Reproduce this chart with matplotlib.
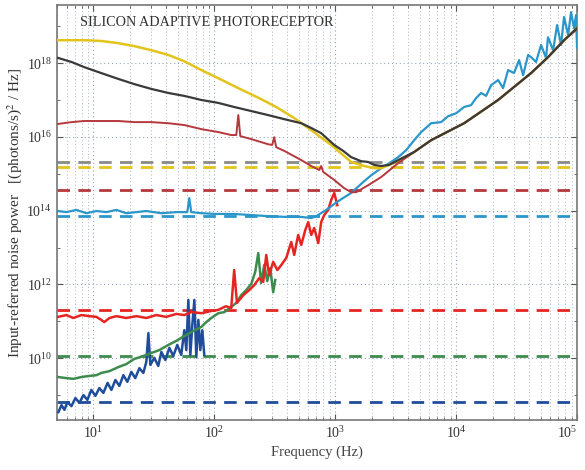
import numpy as np
import matplotlib
matplotlib.use("Agg")
import matplotlib.pyplot as plt
from matplotlib.ticker import FixedLocator, LogLocator, NullFormatter, LogFormatterSciNotation

# ---------------- data (frequency in Hz, PSD as log10 value) ----------------
title_text = "SILICON ADAPTIVE PHOTORECEPTOR"
x_label = "Frequency (Hz)"
y_label = "Input-referred noise power   [(photons/s)$^2$ / Hz]"
x_ticks = [1e1, 1e2, 1e3, 1e4, 1e5]
y_ticks = [1e10, 1e12, 1e14, 1e16, 1e18]

yellow_f = [5.1, 8.4, 11.6, 16.1, 21.8, 30.1, 41.7, 56.5, 78.2, 108, 158, 235, 325, 458,
            634, 927, 1355, 1738, 2100, 2400, 3013, 3508, 4500, 6210, 11640, 22230, 41690,
            57540, 78160, 100000]
yellow_log = [18.62, 18.62, 18.60, 18.54, 18.46, 18.35, 18.22, 18.05, 17.81, 17.59, 17.32,
              17.05, 16.81, 16.51, 16.18, 15.78, 15.32, 15.21, 15.15, 15.15, 15.29, 15.37,
              15.59, 15.91, 16.37, 17.00, 17.73, 18.16, 18.62, 18.95]

black_f = [5.1, 6.6, 8.4, 11.6, 16.1, 21.8, 30.1, 41.7, 56.5, 78.2, 108, 146, 202, 279, 379,
           524, 634, 766, 982, 1164, 1355, 1641, 1875, 2101, 2400, 2793, 3317, 4500, 6216,
           11650, 22250, 41700, 57500, 78100, 100000]
black_log = [18.14, 18.03, 17.89, 17.73, 17.57, 17.43, 17.30, 17.19, 17.11, 17.00, 16.92,
             16.81, 16.70, 16.59, 16.48, 16.37, 16.24, 16.10, 15.78, 15.62, 15.45, 15.34,
             15.32, 15.24, 15.21, 15.24, 15.37, 15.59, 15.91, 16.37, 17.00, 17.73, 18.16,
             18.62, 18.95]

darkred_f = [5.1, 6.6, 8.4, 11.6, 16.1, 21.8, 30.1, 41.7, 56.5, 78.2, 108, 138, 152, 158, 164,
             202, 279, 301, 313, 325, 379, 524, 634, 738, 766, 796, 982, 1186, 1355, 1493,
             1875, 2400, 3317, 4500, 6216, 11650, 22250, 41700, 57500, 78100, 100000]
darkred_log = [16.35, 16.40, 16.43, 16.43, 16.43, 16.40, 16.40, 16.37, 16.32, 16.21, 16.13,
               16.05, 16.05, 16.59, 16.02, 15.94, 15.80, 15.78, 15.99, 15.72, 15.62, 15.37,
               15.21, 15.10, 15.21, 15.05, 14.83, 14.61, 14.50, 14.50, 14.69, 14.91, 15.29,
               15.59, 15.91, 16.37, 17.00, 17.73, 18.16, 18.62, 18.92]

lightblue_f = [5.1, 5.98, 7.24, 8.75, 10.6, 12.8, 15.5, 18.7, 22.7, 27.4, 36.5, 48.5, 59.8,
               62.1, 64.5, 78.2, 104, 146, 202, 279, 394, 524, 634, 697, 843, 982, 1122,
               1355, 1738, 1986, 2400, 2904, 3317, 3864, 4500, 5140, 6216, 7516, 8590,
               10000, 11650, 13300, 14620, 16100, 17700, 19460, 22250, 24450, 26900, 30100,
               33200, 35800, 39400, 41700, 45800, 50400, 55400, 57500, 63400, 68400, 73800,
               78100, 84400, 89200, 94400, 98100, 100000]
lightblue_log = [13.99, 13.96, 14.02, 13.93, 13.99, 13.96, 14.02, 13.93, 13.96, 13.99, 13.93,
                 13.96, 13.96, 14.34, 13.96, 13.93, 13.91, 13.91, 13.88, 13.85, 13.83, 13.83,
                 13.80, 13.85, 14.02, 14.18, 14.31, 14.48, 14.80, 14.96, 15.15, 15.32, 15.45,
                 15.64, 15.91, 16.13, 16.37, 16.40, 16.56, 16.64, 16.81, 16.86, 17.05, 17.19,
                 17.11, 17.40, 17.54, 17.32, 17.81, 17.73, 18.08, 17.67, 18.22, 18.16, 18.03,
                 18.49, 18.14, 18.70, 18.35, 19.03, 18.49, 19.25, 18.76, 19.38, 18.95, 19.30,
                 18.41]

red_f = [5.1, 5.98, 6.83, 7.96, 9.27, 10.6, 11.6, 12.3, 13.6, 15.5, 18.7, 22.7, 27.4, 33.1,
         40.1, 48.5, 56.5, 64.5, 78.2, 94.5, 108, 125, 138, 146, 154, 174, 195, 214, 235,
         254, 269, 284, 307, 332, 359, 394, 433, 458, 494, 524, 565, 598, 634, 670, 724,
         766, 811, 875, 927, 982, 1040]
red_log = [11.12, 11.17, 11.09, 11.17, 11.14, 11.12, 11.04, 10.98, 11.09, 11.14, 11.09, 11.14,
           11.09, 11.17, 11.12, 11.20, 11.17, 11.25, 11.22, 11.28, 11.31, 11.41, 11.36, 12.39,
           11.50, 11.71, 11.85, 11.98, 12.17, 12.07, 12.80, 12.25, 12.61, 12.39, 12.53, 12.72,
           13.15, 12.80, 13.34, 13.07, 13.47, 13.69, 13.34, 13.53, 13.12, 13.69, 13.88, 14.02,
           14.29, 14.48, 14.15]

green_f = [5.1, 5.98, 6.83, 7.96, 9.27, 10.6, 11.6, 13.6, 16.1, 18.7, 21.8, 25.9, 30.1, 35.1,
           41.7, 48.5, 56.5, 64.5, 78.2, 85.9, 94.5, 108, 121, 138, 152, 167, 184, 202, 218,
           231, 244, 259, 274, 290, 307, 319]
green_log = [9.49, 9.46, 9.44, 9.49, 9.52, 9.54, 9.60, 9.65, 9.76, 9.84, 9.98, 10.06, 10.14,
             10.22, 10.36, 10.47, 10.60, 10.71, 10.85, 10.98, 11.09, 11.22, 11.25, 11.39,
             11.50, 11.71, 11.85, 12.01, 12.34, 12.85, 12.04, 12.53, 12.09, 12.44, 11.79,
             12.12]

darkblue_f = [5.14, 5.45, 5.76, 6.10, 6.58, 7.10, 7.66, 8.27, 8.92, 9.62, 10.4, 11.2, 12.1,
              13.1, 14.1, 15.2, 16.4, 17.7, 19.1, 20.6, 22.2, 24.0, 25.9, 27.4, 28.5, 29.6,
              31.9, 34.4, 36.5, 39.4, 42.5, 45.8, 49.4, 53.3, 56.5, 58.7, 61.0, 63.4, 65.8,
              68.4, 71.0, 73.8, 76.6, 79.6, 82.6]
darkblue_log = [8.54, 8.73, 8.60, 8.81, 8.70, 8.92, 8.79, 9.00, 8.87, 9.14, 8.98, 9.19, 9.06,
                9.33, 9.14, 9.41, 9.25, 9.54, 9.36, 9.63, 9.46, 9.73, 9.60, 9.90, 10.68, 9.82,
                10.01, 9.79, 10.17, 9.95, 10.28, 10.06, 10.36, 10.09, 10.76, 10.22, 11.58,
                10.09, 10.90, 11.58, 10.03, 11.04, 10.22, 10.76, 10.09]

# horizontal (dashed) reference levels, log10
level_names = ["gray", "yellow", "darkred", "lightblue", "red", "green", "darkblue"]
level_log = [15.32, 15.18, 14.56, 13.85, 11.31, 10.06, 8.81]

colors = {
    "yellow": "#e3c41c",
    "black": "#3a3a3a",
    "darkred": "#b5383c",
    "lightblue": "#2b96c9",
    "red": "#e52522",
    "green": "#3e8b4e",
    "darkblue": "#1f4d9c",
    "gray": "#8a8a8a",
}

# ---------------- figure ----------------
plt.rcParams["font.family"] = ["Liberation Serif", "DejaVu Serif"]
plt.rcParams["mathtext.fontset"] = "stix"

fig = plt.figure(figsize=(5.85, 4.70), dpi=100)
ax = fig.add_axes([0.0974, 0.106, 0.889, 0.883])
ax.set_xscale("log")
ax.set_yscale("log")
ax.set_xlim(5, 1e5)
ax.set_ylim(10 ** 8.32, 10 ** 19.57)

# ticks and grid
ax.xaxis.set_major_locator(FixedLocator(x_ticks))
ax.xaxis.set_major_formatter(LogFormatterSciNotation())
ax.xaxis.set_minor_locator(LogLocator(base=10, subs=np.arange(2, 10), numticks=20))
ax.xaxis.set_minor_formatter(NullFormatter())
ax.yaxis.set_major_locator(FixedLocator(y_ticks))
ax.yaxis.set_major_formatter(LogFormatterSciNotation())
ax.yaxis.set_minor_locator(FixedLocator([1e9, 1e11, 1e13, 1e15, 1e17, 1e19]))
ax.yaxis.set_minor_formatter(NullFormatter())
ax.grid(True, which="major", axis="both", linestyle=(0, (1, 2.5)), color="#9aa6b8", lw=0.8)
ax.grid(True, which="minor", axis="x", linestyle=(0, (1, 2.5)), color="#aab4c4", lw=0.7)

# dashed levels
dash = (0, (4.5, 3.0))
for name, lv in zip(level_names, level_log):
    ax.axhline(10 ** lv, color=colors[name], lw=2.0, linestyle=dash, zorder=2)

def plot_series(f, lg, name, lw=1.6, z=3):
    ax.plot(f, 10 ** np.array(lg), color=colors[name], lw=lw, zorder=z)

plot_series(darkblue_f, darkblue_log, "darkblue", lw=1.8, z=3)
plot_series(green_f, green_log, "green", lw=1.8, z=4)
plot_series(red_f, red_log, "red", lw=1.8, z=5)
plot_series(lightblue_f, lightblue_log, "lightblue", lw=1.6, z=6)
plot_series(yellow_f, yellow_log, "yellow", lw=1.8, z=7)
plot_series(darkred_f, darkred_log, "darkred", lw=1.4, z=8)
plot_series(black_f, black_log, "black", lw=1.6, z=9)

ax.text(0.044, 0.958, title_text, transform=ax.transAxes, fontsize=10.2,
        color="#333333", va="center", ha="left", zorder=10)

ax.set_xlabel(x_label, fontsize=10.5, color="#444444", labelpad=3)
ax.set_ylabel(y_label, fontsize=11, color="#333333", labelpad=2)
ax.tick_params(which="both", direction="in", top=True, right=True, colors="#555555",
               labelcolor="#333333", labelsize=10)
ax.tick_params(which="major", length=4)
ax.tick_params(which="minor", length=2)
for s in ax.spines.values():
    s.set_color("#777777")
    s.set_linewidth(1.2)

# keep the last x tick label inside the figure
fig.canvas.draw()
last_lbl = ax.get_xticklabels()[-1]
last_lbl.set_horizontalalignment("right")

fig.savefig("out.png", dpi=100)
